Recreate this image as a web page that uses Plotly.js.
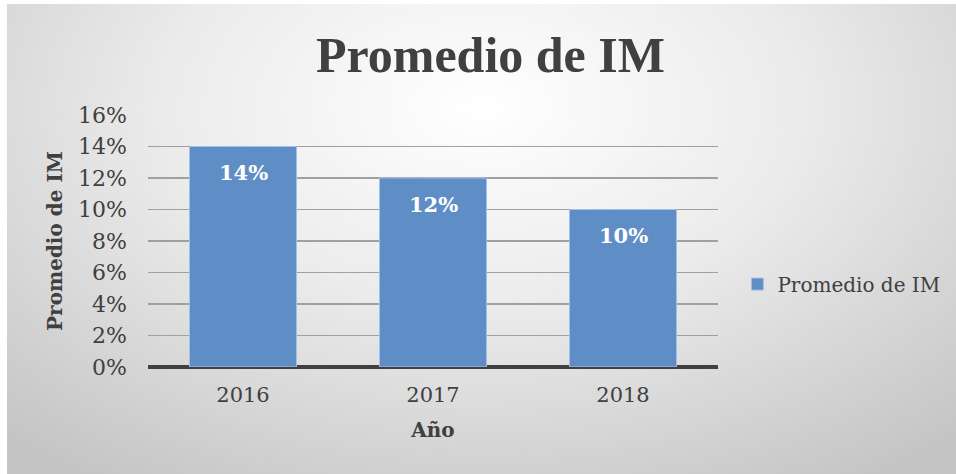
<!DOCTYPE html>
<html>
<head>
<meta charset="utf-8">
<script src="https://cdn.plot.ly/plotly-3.0.1.min.js"></script>
<style>
html,body{margin:0;padding:0;background:#fff;}
#wrap{position:absolute;left:7px;top:4px;width:949px;height:470px;
background:radial-gradient(ellipse 75% 95% at 50% 22%, #ffffff 0%, #ebebeb 45%, #d2d2d2 80%, #c4c4c4 100%);}
#chart{position:absolute;left:0;top:0;width:956px;height:474px;}
</style>
</head>
<body>
<div id="wrap"></div>
<div id="chart"></div>
<script>
const years = ['2016', '2017', '2018'];
const values = [0.14, 0.12, 0.10];
const valueLabels = ['14%', '12%', '10%'];
const seriesName = 'Promedio de IM';
const yTicks = [0, 0.02, 0.04, 0.06, 0.08, 0.10, 0.12, 0.14, 0.16];

const serif = '"DejaVu Serif", "Liberation Serif", serif';
const titleSerif = '"Liberation Serif", "DejaVu Serif", serif';

const trace = {
  type: 'bar',
  x: years,
  y: values,
  name: seriesName,
  marker: {color: '#5f8dc6', line: {color: '#a3c0e6', width: 1}},
  hoverinfo: 'skip'
};

const annotations = years.map((yr, i) => ({
  x: i, y: values[i], xref: 'x', yref: 'y',
  text: '<b>' + valueLabels[i] + '</b>',
  showarrow: false, yanchor: 'middle', yshift: -26,
  font: {family: serif, size: 21, color: '#ffffff'}
}));

const layout = {
  width: 956, height: 474,
  paper_bgcolor: 'rgba(0,0,0,0)',
  plot_bgcolor: 'rgba(0,0,0,0)',
  margin: {l: 148, r: 238, t: 115, b: 107, pad: 0, autoexpand: false},
  bargap: 0.437,
  title: {
    text: '<b>Promedio de IM</b>',
    x: 0.513, xanchor: 'center', y: 0.885, yanchor: 'middle',
    font: {family: titleSerif, size: 50, color: '#404040'}
  },
  xaxis: {
    type: 'category',
    range: [-0.5, 2.5],
    tickfont: {family: serif, size: 21, color: '#404040'},
    ticks: '', ticklen: 0,
    ticklabelstandoff: 13,
    showgrid: false,
    showline: false,
    zeroline: false,
    title: {text: '<b>Año</b>', font: {family: serif, size: 20, color: '#404040'}, standoff: 16}
  },
  yaxis: {
    range: [0, 0.16],
    tickvals: yTicks,
    tickformat: '.0%',
    tickfont: {family: serif, size: 22, color: '#404040'},
    ticks: '',
    ticklabelstandoff: 20,
    showgrid: true, gridcolor: '#a0a0a0', gridwidth: 1.2,
    zeroline: true, zerolinecolor: '#404040', zerolinewidth: 3.5,
    showline: false,
    title: {text: '<b>Promedio de IM</b>', font: {family: serif, size: 20, color: '#404040'}, standoff: 10}
  },
  showlegend: true,
  legend: {
    x: 1.034, xanchor: 'left', y: 0.329, yanchor: 'middle',
    font: {family: serif, size: 20, color: '#404040'},
    bgcolor: 'rgba(0,0,0,0)',
    itemwidth: 30
  },
  annotations: annotations
};

Plotly.newPlot('chart', [trace], layout, {displayModeBar: false, staticPlot: true});
</script>
</body>
</html>
